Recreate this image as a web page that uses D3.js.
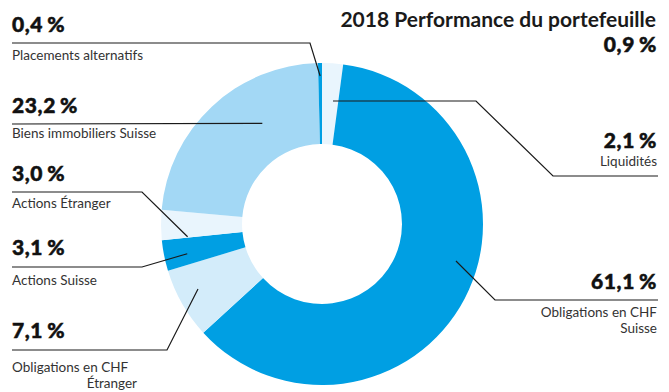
<!DOCTYPE html>
<html>
<head>
<meta charset="utf-8">
<script src="https://cdn.jsdelivr.net/npm/d3@7"></script>
<style>
  body { margin: 0; background: #fff; }
  text { font-family: Lato, "Open Sans", sans-serif; }
</style>
</head>
<body>
<div id="chart"></div>
<script>
// data
var categories = ["Liquidités", "Obligations en CHF Suisse", "Obligations en CHF Étranger",
                  "Actions Suisse", "Actions Étranger", "Biens immobiliers Suisse", "Placements alternatifs"];
var values = [2.1, 61.1, 7.1, 3.1, 3.0, 23.2, 0.4];
var valueLabels = ["2,1 %", "61,1 %", "7,1 %", "3,1 %", "3,0 %", "23,2 %", "0,4 %"];
var titleText = "2018 Performance du portefeuille";
var performanceLabel = "0,9 %";

// styles
var colors = ["#e9f5fd", "#009fe3", "#d3ecfa", "#009fe3", "#e9f5fd", "#a3d8f5", "#009fe3"];

var width = 669,
    height = 392,
    cx = 322, cy = 224,
    outerR = 161, innerR = 80;

// where labels sit and where each leader line touches its slice
var layout = [
  {side: "right", lineY: 176, elbowX: 553, elbow2X: 476, elbowY: 101, textX: 657, numY: 148, lab: [166], fr: 0.67, r: 124},
  {side: "right", lineY: 300, elbowX: 495, textX: 657, numY: 289, lab: [317, 333], fr: 0.445, r: 139},
  {side: "left", lineY: 350, elbowX: 167, textX: 12, numY: 338, lab: [372, 388], labAnchor: "end", labX: 137, fr: 0.58, r: 140},
  {side: "left", lineY: 267, elbowX: 142, textX: 12, numY: 255, lab: [285], fr: 0.4, r: 138},
  {side: "left", lineY: 192, elbowX: 142, textX: 12, numY: 181, lab: [208], fr: 0.03, r: 135},
  {side: "left", lineY: 124, elbowX: null, textX: 12, numY: 113, lab: [138], fr: 0.65, r: 117},
  {side: "left", lineY: 43, elbowX: 310, textX: 12, numY: 32, lab: [60], fr: 0.5, r: 148}
];
var labelLines = [
  ["Liquidités"],
  ["Obligations en CHF", "Suisse"],
  ["Obligations en CHF", "Étranger"],
  ["Actions Suisse"],
  ["Actions Étranger"],
  ["Biens immobiliers Suisse"],
  ["Placements alternatifs"]
];

var svg = d3.select("#chart").append("svg")
    .attr("width", width)
    .attr("height", height);

var pie = d3.pie().sort(null).value(d => d);
var arcs = pie(values);

var arc = d3.arc().innerRadius(innerR).outerRadius(outerR);

var g = svg.append("g").attr("transform", "translate(" + cx + "," + cy + ")");

g.selectAll("path.slice")
    .data(arcs)
    .enter()
    .append("path")
    .attr("class", "slice")
    .attr("d", arc)
    .attr("fill", (d, i) => colors[i]);

// point inside a slice, at fraction of its angle span
function anchor(d, fr, r) {
    var a = d.startAngle + (d.endAngle - d.startAngle) * fr;
    return [cx + r * Math.sin(a), cy - r * Math.cos(a)];
}

var line = d3.line();

function bigNumber(sel) {
    return sel
        .attr("font-size", "21px")
        .attr("font-weight", 900)
        .attr("letter-spacing", "0.6px")
        .attr("word-spacing", "-1.5px")
        .attr("fill", "#111")
        .attr("stroke", "#111")
        .attr("stroke-width", 0.5);
}

arcs.forEach(function(d, i) {
    var L = layout[i];
    var p = anchor(d, L.fr, L.r);
    var pts;
    if (L.side === "left") {
        pts = [[L.textX, L.lineY]];
        if (L.elbowX !== null) pts.push([L.elbowX, L.lineY]);
        pts.push(p);
    } else if (L.elbow2X) {
        pts = [[L.textX + 1, L.lineY], [L.elbowX, L.lineY], [L.elbow2X, L.elbowY], [p[0], L.elbowY]];
    } else {
        pts = [[L.textX + 1, L.lineY], [L.elbowX, L.lineY], p];
    }
    svg.append("path")
        .attr("d", line(pts))
        .attr("fill", "none")
        .attr("stroke", "#1a1a1a")
        .attr("stroke-width", 1.2);

    var anchorText = L.side === "left" ? "start" : "end";
    svg.append("text")
        .attr("x", L.textX)
        .attr("y", L.numY)
        .attr("text-anchor", anchorText)
        .call(bigNumber)
        .text(valueLabels[i]);

    labelLines[i].forEach(function(t, j) {
        var x = L.textX, ta = anchorText;
        if (L.labAnchor && j > 0) { x = L.labX; ta = L.labAnchor; }
        svg.append("text")
            .attr("x", x)
            .attr("y", L.lab[j])
            .attr("text-anchor", ta)
            .attr("font-size", "13.5px")
            .attr("fill", "#333")
            .text(t);
    });
});

// title
svg.append("text")
    .attr("x", 656)
    .attr("y", 27)
    .attr("text-anchor", "end")
    .attr("font-size", "21px")
    .attr("font-weight", 700)
    .attr("fill", "#1a1a1a")
    .text(titleText);

svg.append("text")
    .attr("x", 657)
    .attr("y", 52)
    .attr("text-anchor", "end")
    .call(bigNumber)
    .text(performanceLabel);
</script>
</body>
</html>
